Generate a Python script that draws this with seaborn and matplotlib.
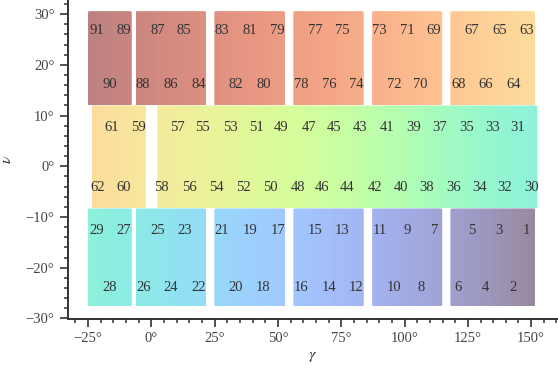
import numpy as np
import matplotlib
matplotlib.use("Agg")
import matplotlib.pyplot as plt
from matplotlib.patches import FancyBboxPatch
from matplotlib.ticker import MultipleLocator, FuncFormatter
import seaborn as sns

# ---- field layout (gamma / nu in degrees) ----
# rectangular tiles: (gamma_min, gamma_max) for each block of a strip
outer_blocks = [(-25.0, -7.7), (-6.2, 21.6), (24.9, 52.8), (56.1, 83.9), (87.2, 114.9), (118.1, 151.6)]
middle_blocks = [(-23.5, -2.1), (2.4, 152.5)]
# strip extents in nu
top_strip = (12.0, 30.6)
middle_strip = (-8.3, 12.0)
bottom_strip = (-27.6, -8.3)

# field numbers and their centres
outer_gamma = [148.3, 142.9, 137.4, 132.0, 126.4, 121.2, 111.7, 106.4, 101.0, 95.9,
               90.2, 81.0, 75.5, 70.1, 64.6, 59.3, 49.9, 44.3, 39.0, 33.2,
               27.9, 18.6, 13.0, 7.7, 2.4, -3.2, -10.8, -16.3, -21.6]
bottom_ids = list(range(1, 30))
top_ids = list(range(63, 92))
middle_gamma = [150.1, 144.6, 139.6, 134.6, 129.5, 124.5, 119.2, 113.7, 108.7, 103.4,
                98.5, 93.2, 88.3, 82.3, 77.4, 72.2, 67.4, 62.2, 58.0, 51.2,
                46.9, 41.4, 36.3, 31.1, 25.8, 20.3, 14.9, 10.3, 4.1, -5.1,
                -10.8, -15.6, -21.1]
middle_ids = list(range(30, 63))
# nu of the two label lines in each strip (odd ids, even ids)
bottom_nu = {1: -12.7, 0: -23.9}
middle_nu = {1: 7.6, 0: -4.2}
top_nu = {1: 26.7, 0: 16.2}

x_ticks = [-25, 0, 25, 50, 75, 100, 125, 150]
y_ticks = [-30, -20, -10, 0, 10, 20, 30]

# ---- styling ----
sns.set_theme(style="ticks")
plt.rcParams["font.family"] = ["Liberation Serif", "DejaVu Serif"]
plt.rcParams["mathtext.fontset"] = "stix"

try:
    cmap = sns.color_palette("turbo", as_cmap=True)
except Exception:
    cmap = matplotlib.colormaps["turbo"]

W, H = 558, 368
fig = plt.figure(figsize=(W / 100, H / 100), dpi=100)
ax = fig.add_axes([67.7 / W, 49 / H, (W - 67.7) / W, 319 / H])
ax.set_xlim(-33.0, 160.6)
ax.set_ylim(-30.1, 32.8)

G_RIGHT, G_LEFT = 152.5, -25.0
ALPHA = 0.5


def draw_tile(g0, g1, n0, n1, t_offset):
    gx = np.linspace(g0, g1, 200)
    t = t_offset + (G_RIGHT - gx) / (G_RIGHT - G_LEFT) / 3.0
    img = ax.imshow(t[np.newaxis, :], extent=(g0, g1, n0, n1), origin="lower",
                    cmap=cmap, vmin=0, vmax=1, alpha=ALPHA, aspect="auto",
                    interpolation="bilinear", zorder=1)
    patch = FancyBboxPatch((g0, n0), g1 - g0, n1 - n0,
                           boxstyle="round,pad=0,rounding_size=0.6",
                           mutation_aspect=0.5, transform=ax.transData,
                           facecolor="none", edgecolor="none")
    ax.add_patch(patch)
    img.set_clip_path(patch)


for g0, g1 in outer_blocks:
    draw_tile(g0, g1, *bottom_strip, 0.0)
    draw_tile(g0, g1, *top_strip, 2.0 / 3.0)
for g0, g1 in middle_blocks:
    draw_tile(g0, g1, *middle_strip, 1.0 / 3.0)

text_kw = dict(ha="center", va="center", fontsize=10.5, color="#333333", zorder=3)
for fid, g in zip(bottom_ids, outer_gamma):
    ax.text(g, bottom_nu[fid % 2], str(fid), **text_kw)
for fid, g in zip(top_ids, outer_gamma):
    ax.text(g, top_nu[fid % 2], str(fid), **text_kw)
for fid, g in zip(middle_ids, middle_gamma):
    ax.text(g, middle_nu[fid % 2], str(fid), **text_kw)

# ---- axes ----
sns.despine(ax=ax)
for side in ("left", "bottom"):
    ax.spines[side].set_linewidth(1.4)
    ax.spines[side].set_color("#333333")
ax.set_xticks(x_ticks)
ax.set_yticks(y_ticks)
ax.xaxis.set_minor_locator(MultipleLocator(5))
ax.yaxis.set_minor_locator(MultipleLocator(2))
deg = FuncFormatter(lambda v, p: f"{v:g}°".replace("-", "\u2212"))
ax.xaxis.set_major_formatter(deg)
ax.yaxis.set_major_formatter(deg)
ax.tick_params(which="major", length=5.5, width=1.2, color="#333333",
               labelsize=10.5, labelcolor="#444444", pad=4)
ax.tick_params(which="minor", length=3.2, width=1.1, color="#333333")
ax.set_xlabel(r"$\gamma$", fontsize=11.5, color="#333333", labelpad=2)
ax.set_ylabel(r"$\nu$", fontsize=11.5, color="#333333", labelpad=8)
ax.grid(False)
ax.set_facecolor("white")

fig.savefig("out.png", dpi=100)
